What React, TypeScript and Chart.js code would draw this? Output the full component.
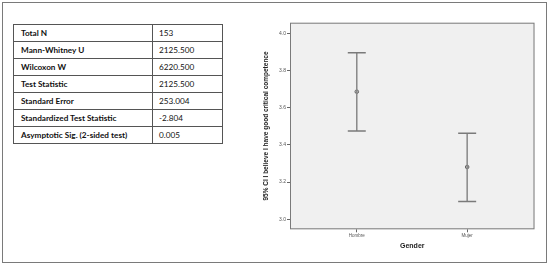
import React, { useEffect, useRef } from "react";
import { Chart, registerables } from "chart.js";

Chart.register(...registerables);

const statLabels = [
  "Total N",
  "Mann-Whitney U",
  "Wilcoxon W",
  "Test Statistic",
  "Standard Error",
  "Standardized Test Statistic",
  "Asymptotic Sig. (2-sided test)",
];
const statValues = ["153", "2125.500", "6220.500", "2125.500", "253.004", "-2.804", "0.005"];

const categories = ["Hombre", "Mujer"];
const means = [3.686, 3.281];
const ciLower = [3.475, 3.095];
const ciUpper = [3.896, 3.462];
const yTicks = [3.0, 3.2, 3.4, 3.6, 3.8, 4.0];
const yTitle = "95% CI I believe I have good critical competence";
const xTitle = "Gender";

const plotFrame = {
  id: "plotFrame",
  beforeDatasetsDraw(chart: any) {
    const { ctx, chartArea: a } = chart;
    ctx.save();
    ctx.fillStyle = "#f0f0f0";
    ctx.fillRect(a.left, a.top, a.right - a.left, a.bottom - a.top);
    ctx.strokeStyle = "#7a7a7a";
    ctx.lineWidth = 1;
    ctx.strokeRect(a.left + 0.5, a.top + 0.5, a.right - a.left - 1, a.bottom - a.top - 1);
    ctx.restore();
  },
};

function ErrorChart() {
  const ref = useRef<HTMLCanvasElement>(null);
  useEffect(() => {
    if (!ref.current) return;
    const barSets = categories.map((c, i) => ({
      label: c,
      data: [
        { x: i + 1, y: ciLower[i] },
        { x: i + 1, y: ciUpper[i] },
      ],
      showLine: true,
      borderColor: "#888",
      borderWidth: 1.5,
      pointStyle: "line",
      pointRadius: 9,
      pointBorderWidth: 1.5,
      pointBorderColor: "#7a7a7a",
      pointBackgroundColor: "#7a7a7a",
    }));
    const meanSet = {
      label: "mean",
      data: means.map((m, i) => ({ x: i + 1, y: m })),
      showLine: false,
      pointStyle: "circle",
      pointRadius: 1.8,
      pointBorderWidth: 1,
      pointBorderColor: "#666",
      pointBackgroundColor: "#c8c8c8",
    };
    const chart = new Chart(ref.current, {
      type: "scatter",
      data: { datasets: [...barSets, meanSet] as any },
      options: {
        responsive: false,
        animation: false,
        layout: { padding: { left: 0, top: 17.7, right: 9.5, bottom: 0 } },
        plugins: { legend: { display: false }, tooltip: { enabled: false } },
        scales: {
          x: {
            type: "linear",
            min: 0.395,
            max: 2.61,
            afterBuildTicks: (s: any) => {
              s.ticks = categories.map((_, i) => ({ value: i + 1 }));
            },
            afterFit: (s: any) => {
              s.height = 30.7;
            },
            ticks: {
              callback: (v: any) => categories[Number(v) - 1] ?? "",
              font: { family: "Liberation Sans", size: 4.5 },
              color: "#555",
              padding: 1,
              maxRotation: 0,
              autoSkip: false,
            },
            grid: { drawOnChartArea: false, drawTicks: true, tickLength: 3, tickColor: "#666", color: "#666" },
            border: { display: false },
            title: {
              display: true,
              text: xTitle,
              font: { family: "Liberation Sans", size: 7, weight: "bold" },
              color: "#222",
              padding: { top: 0, bottom: 10 },
            },
          },
          y: {
            type: "linear",
            min: 2.946,
            max: 4.057,
            afterBuildTicks: (s: any) => {
              s.ticks = yTicks.map((v) => ({ value: v }));
            },
            afterFit: (s: any) => {
              s.width = 35;
            },
            ticks: {
              callback: (v: any) => Number(v).toFixed(1),
              font: { family: "Liberation Sans", size: 5 },
              color: "#555",
              padding: 1,
            },
            grid: { drawOnChartArea: false, drawTicks: true, tickLength: 3, tickColor: "#666", color: "#666" },
            border: { display: false },
            title: {
              display: true,
              text: yTitle,
              font: { family: "Liberation Sans", size: 6.5, weight: "bold" },
              color: "#222",
              padding: { top: 7, bottom: 0 },
            },
          },
        },
      } as any,
      plugins: [plotFrame],
    });
    return () => chart.destroy();
  }, []);
  return (
    <canvas
      ref={ref}
      width={290}
      height={255}
      style={{ position: "absolute", left: 255, top: 5, width: 290, height: 255 }}
    />
  );
}

export default function App() {
  const cell: React.CSSProperties = {
    border: "1px solid #555",
    padding: "0 0 0 6px",
    height: 16,
    lineHeight: "16px",
    whiteSpace: "nowrap",
    overflow: "hidden",
  };
  return (
    <div
      style={{
        position: "absolute",
        left: 0,
        top: 0,
        width: 550,
        height: 264,
        background: "#fff",
        fontFamily: "Lato, 'Open Sans', sans-serif",
        color: "#111",
      }}
    >
      <div
        style={{
          position: "absolute",
          left: 2,
          top: 2,
          width: 543,
          height: 259,
          border: "1px solid #7a7a7a",
        }}
      />
      <table
        style={{
          position: "absolute",
          left: 13,
          top: 24,
          width: 209,
          borderCollapse: "collapse",
          tableLayout: "fixed",
          fontSize: 8.2,
        }}
      >
        <colgroup>
          <col style={{ width: 139 }} />
          <col style={{ width: 70 }} />
        </colgroup>
        <tbody>
          {statLabels.map((l, i) => (
            <tr key={l}>
              <td style={{ ...cell, fontWeight: 700, paddingLeft: 7 }}>{l}</td>
              <td style={cell}>{statValues[i]}</td>
            </tr>
          ))}
        </tbody>
      </table>
      <ErrorChart />
    </div>
  );
}
